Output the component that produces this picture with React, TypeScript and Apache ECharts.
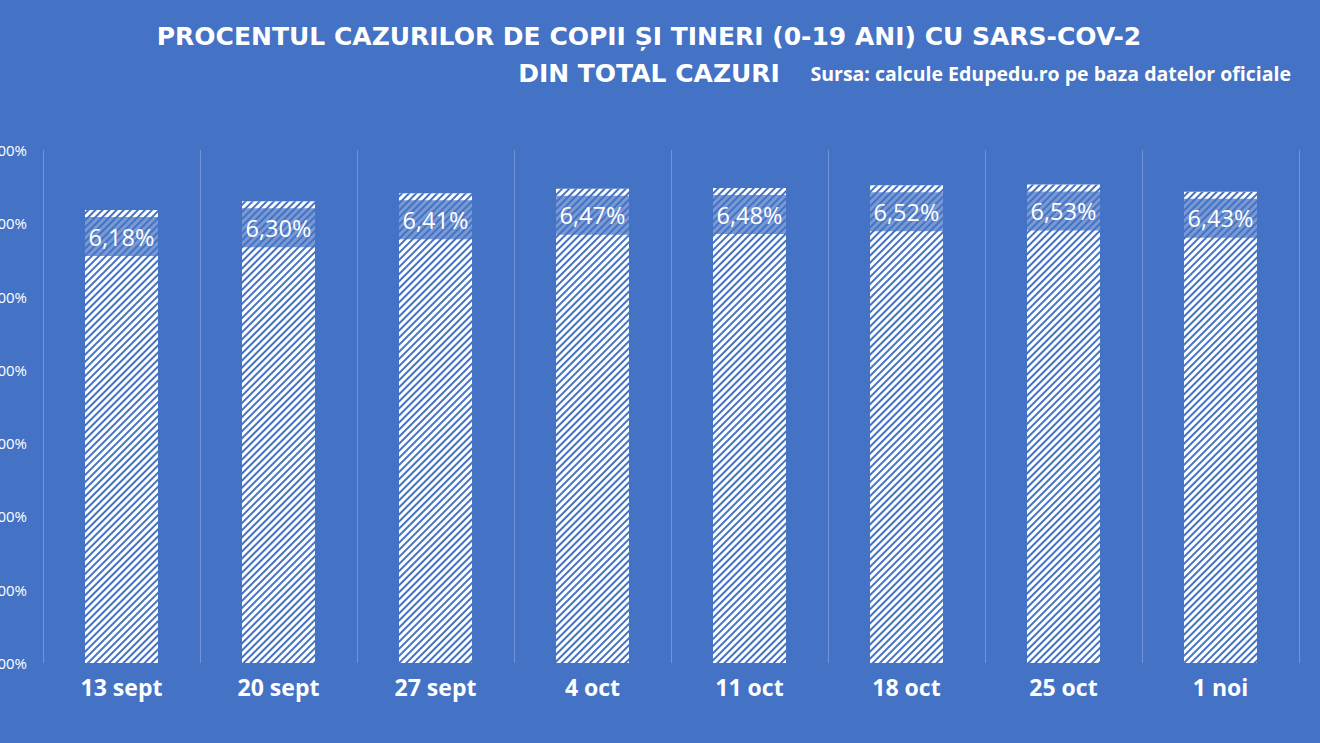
import { useEffect, useRef } from 'react';
import * as echarts from 'echarts';

// Weekly share of 0-19 cases in total SARS-CoV-2 cases (%)
const weeks = ['13 sept', '20 sept', '27 sept', '4 oct', '11 oct', '18 oct', '25 oct', '1 noi'];
const shares = [6.18, 6.30, 6.41, 6.47, 6.48, 6.52, 6.53, 6.43];
const yTicks = { min: 0, max: 7, interval: 1 };

const BG = '#4472c4';
const FONT = '"Open Sans", Lato, sans-serif';

const fmt = (v: number) => v.toFixed(2).replace('.', ',') + '%';

export default function App() {
    const chartRef = useRef<HTMLDivElement>(null);

    useEffect(() => {
        if (!chartRef.current) return;
        const chart = echarts.init(chartRef.current, null, { renderer: 'svg' });

        chart.setOption({
            animation: false,
            backgroundColor: BG,
            title: [
                {
                    text: 'PROCENTUL CAZURILOR DE COPII ȘI TINERI (0-19 ANI) CU SARS-COV-2\nDIN TOTAL CAZURI',
                    left: 644,
                    top: 13,
                    textAlign: 'center',
                    textStyle: {
                        color: '#fff',
                        fontFamily: '"DejaVu Sans", sans-serif',
                        fontWeight: 'bold',
                        fontSize: 25,
                        lineHeight: 37
                    }
                },
                {
                    text: 'Sursa: calcule Edupedu.ro pe baza datelor oficiale',
                    right: 24,
                    top: 58,
                    textStyle: {
                        color: '#fff',
                        fontFamily: FONT,
                        fontWeight: 'bold',
                        fontSize: 19.5
                    }
                }
            ],
            grid: { left: 43, right: 21, top: 150, bottom: 80, containLabel: false, outerBoundsMode: 'none' },
            xAxis: {
                type: 'category',
                data: weeks,
                axisLine: { show: false },
                axisTick: { show: false },
                splitLine: { show: true, lineStyle: { color: '#7094d6', width: 1 } },
                axisLabel: {
                    color: '#fff',
                    fontFamily: FONT,
                    fontWeight: 'bold',
                    fontSize: 23,
                    margin: 12
                }
            },
            yAxis: {
                type: 'value',
                ...yTicks,
                axisLine: { show: false },
                axisTick: { show: false },
                splitLine: { show: false },
                axisLabel: {
                    color: '#fff',
                    fontFamily: FONT,
                    fontSize: 15,
                    margin: 16,
                    formatter: (v: number) => fmt(v)
                }
            },
            series: [
                {
                    type: 'bar',
                    data: shares,
                    barWidth: 73,
                    itemStyle: {
                        color: '#fff',
                        decal: {
                            symbol: 'rect',
                            symbolSize: 1,
                            color: BG,
                            dashArrayX: [1, 0],
                            dashArrayY: [1.6, 2.2],
                            rotation: -Math.PI / 4
                        }
                    },
                    label: {
                        show: true,
                        position: 'insideTop',
                        distance: 7,
                        formatter: (p: any) => fmt(p.value),
                        color: '#fff',
                        fontFamily: FONT,
                        fontSize: 23.5,
                        width: 73,
                        align: 'center',
                        lineHeight: 39,
                        padding: 0,
                        backgroundColor: 'rgba(68,114,196,0.72)'
                    }
                }
            ]
        });

        return () => chart.dispose();
    }, []);

    return (
        <div
            ref={chartRef}
            style={{ position: 'fixed', left: 0, top: 0, width: 1320, height: 743 }}
        />
    );
}
